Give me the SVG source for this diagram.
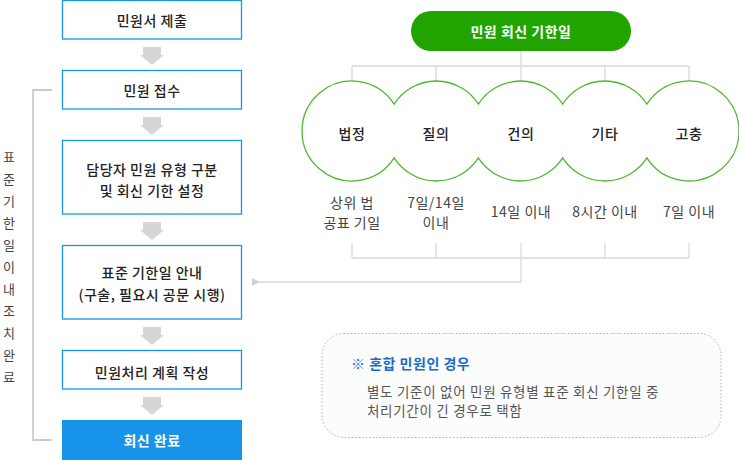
<svg xmlns="http://www.w3.org/2000/svg" xmlns:xlink="http://www.w3.org/1999/xlink" width="739" height="460" viewBox="0 0 739 460">
<style>
text{font-family:"Noto Sans CJK KR","Noto Sans",sans-serif;font-size:14px;letter-spacing:0.5px;}
.box{fill:#fff;stroke:#1793ea;stroke-width:1.3;}
.bt{fill:#222;font-weight:500;text-anchor:middle;}
.ct{fill:#222;font-weight:500;text-anchor:middle;}
.sub{fill:#444;text-anchor:middle;}
.vt{fill:#444;text-anchor:middle;font-size:13px;letter-spacing:0;}
.ln{fill:none;stroke:#d9d9d9;stroke-width:1.3;}
.br{fill:none;stroke:#bbbbbb;stroke-width:1.3;}
.nb{fill:#555;font-size:13.5px;letter-spacing:0.7px;}
</style>
<defs>
<path id="darr" d="M-9,0 H9 V8 H12 L0,18 L-12,8 H-9 Z" fill="#d6d6d6"/>
<marker id="ah" viewBox="0 0 10 10" refX="1" refY="5" markerWidth="8" markerHeight="8" orient="auto-start-reverse" markerUnits="userSpaceOnUse">
<path d="M0,5 L10,0 L10,10 Z" fill="#d0d0d0"/>
</marker>
</defs>

<g id="connectors">
<use xlink:href="#darr" href="#darr" transform="translate(152,47)"/>
<use xlink:href="#darr" href="#darr" transform="translate(152,117)"/>
<use xlink:href="#darr" href="#darr" transform="translate(152,222)"/>
<use xlink:href="#darr" href="#darr" transform="translate(152,327)"/>
<use xlink:href="#darr" href="#darr" transform="translate(152,397)"/>
<path class="br" d="M52,90 H33 V440 H52"/>
<path class="ln" d="M521,51 V66 M352,66 H689 M352,66 V81 M436,66 V81 M521,66 V81 M605,66 V81 M689,66 V81"/>
<path class="ln" d="M352,243 V258 M436,243 V258 M521,243 V258 M605,243 V258 M689,243 V258 M352,258 H689 M521,258 V282 H259" marker-end="url(#ah)"/>
</g>

<g id="n1"><rect class="box" x="62.5" y="0.5" width="179" height="38.5"/><text class="bt" x="152" y="26">민원서 제출</text></g>
<g id="n2"><rect class="box" x="62.5" y="70.5" width="179" height="38.5"/><text class="bt" x="152" y="96">민원 접수</text></g>
<g id="n3"><rect class="box" x="62.5" y="140.5" width="179" height="73.5"/><text class="bt" x="152" y="175">담당자 민원 유형 구분</text><text class="bt" x="152" y="196">및 회신 기한 설정</text></g>
<g id="n4"><rect class="box" x="62.5" y="245.5" width="179" height="73.5"/><text class="bt" x="152" y="278">표준 기한일 안내</text><text class="bt" x="152" y="300">(구술, 필요시 공문 시행)</text></g>
<g id="n5"><rect class="box" x="62.5" y="350.5" width="179" height="38.5"/><text class="bt" x="152" y="378">민원처리 계획 작성</text></g>
<g id="n6"><rect x="62" y="420" width="180" height="40" fill="#1793ea"/><text x="152" y="446" text-anchor="middle" fill="#fff" font-weight="bold">회신 완료</text></g>

<g id="vlabel">
<text class="vt" x="9" y="162">표</text>
<text class="vt" x="9" y="184">준</text>
<text class="vt" x="9" y="206">기</text>
<text class="vt" x="9" y="228">한</text>
<text class="vt" x="9" y="250">일</text>
<text class="vt" x="9" y="272">이</text>
<text class="vt" x="9" y="294">내</text>
<text class="vt" x="9" y="316">조</text>
<text class="vt" x="9" y="338">치</text>
<text class="vt" x="9" y="360">완</text>
<text class="vt" x="9" y="382">료</text>
</g>

<g id="title"><rect x="411" y="11" width="220" height="40" rx="20" fill="#21a300"/><text x="521" y="36.5" text-anchor="middle" fill="#fff" font-weight="bold" letter-spacing="1">민원 회신 기한일</text></g>

<g id="cloud">
<path d="M394.125,104.065 A50,50 0 1 0 394.125,157.935 A50,50 0 0 0 478.375,157.935 A50,50 0 0 0 562.625,157.935 A50,50 0 0 0 646.875,157.935 A50,50 0 1 0 646.875,104.065 A50,50 0 0 0 562.625,104.065 A50,50 0 0 0 478.375,104.065 A50,50 0 0 0 394.125,104.065 Z" fill="#fff" stroke="#4db82c" stroke-width="1.3"/>
</g>
<g id="c1"><text class="ct" x="352" y="138.5">법정</text><text class="sub" x="352" y="207.5">상위 법</text><text class="sub" x="352" y="227.5">공표 기일</text></g>
<g id="c2"><text class="ct" x="436" y="138.5">질의</text><text class="sub" x="436" y="207.5">7일/14일</text><text class="sub" x="436" y="227.5">이내</text></g>
<g id="c3"><text class="ct" x="521" y="138.5">건의</text><text class="sub" x="521" y="216.5">14일 이내</text></g>
<g id="c4"><text class="ct" x="605" y="138.5">기타</text><text class="sub" x="605" y="216.5">8시간 이내</text></g>
<g id="c5"><text class="ct" x="689" y="138.5">고충</text><text class="sub" x="689" y="216.5">7일 이내</text></g>

<g id="note">
<rect x="322" y="333.5" width="399" height="104" rx="22" fill="#fcfcfc" stroke="#b0b0b0" stroke-width="1" stroke-dasharray="1.5 2"/>
<text x="351" y="368.5" fill="#1a6bc9" font-weight="bold">※ 혼합 민원인 경우</text>
<text class="nb" x="367" y="396.5">별도 기준이 없어 민원 유형별 표준 회신 기한일 중</text>
<text class="nb" x="367" y="416">처리기간이 긴 경우로 택함</text>
</g>
</svg>
